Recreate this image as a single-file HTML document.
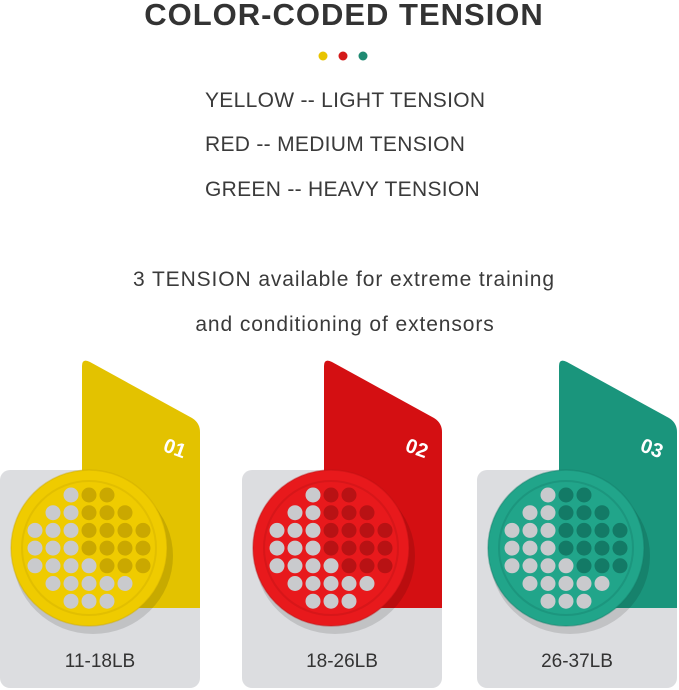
<!DOCTYPE html>
<html><head><meta charset="utf-8"><style>
html,body{margin:0;padding:0;background:#fff;width:679px;height:690px;overflow:hidden}
svg{display:block}
text{font-family:"Liberation Sans",sans-serif}
</style></head><body>
<svg id="s" width="679" height="690" viewBox="0 0 679 690" xmlns="http://www.w3.org/2000/svg">
<text x="344" y="25" text-anchor="middle" font-size="31" font-weight="bold" fill="#333" letter-spacing="1">COLOR-CODED TENSION</text>
<circle cx="323" cy="56" r="4.5" fill="#e8c400"/>
<circle cx="343" cy="56" r="4.5" fill="#d41a1a"/>
<circle cx="363" cy="56" r="4.5" fill="#1f8a72"/>
<g font-size="21" fill="#3a3a3a" xml:space="preserve" letter-spacing="0.3">
<text x="205" y="107">YELLOW  -- LIGHT TENSION</text>
<text x="205" y="151">RED -- MEDIUM TENSION</text>
<text x="205" y="196">GREEN -- HEAVY TENSION</text>
<text x="344" y="286" text-anchor="middle" letter-spacing="0.9">3 TENSION available for extreme training</text>
<text x="345" y="331" text-anchor="middle" letter-spacing="0.9">and conditioning of extensors</text>
</g>
<g id="cards"></g>
</svg>
<script>
var g=document.getElementById('cards'),h='';
var C=[{x:0,c:'#efcb00',d:'#caa800',e:'#e3c200',l:'11-18LB',n:'01'},
{x:242,c:'#e8191c',d:'#b81214',e:'#d40f12',l:'18-26LB',n:'02'},
{x:477,c:'#21a58a',d:'#137a66',e:'#1a957c',l:'26-37LB',n:'03'}];
C.forEach(function(k){var x=k.x;
h+='<rect x="'+x+'" y="470" width="200" height="218" rx="10" fill="#dcdde0"/>';
h+='<path d="M'+(x+82)+' 366 Q'+(x+82)+' 358 '+(x+90)+' 362 L'+(x+192)+' 418 Q'+(x+200)+' 423 '+(x+200)+' 432 L'+(x+200)+' 608 L'+(x+82)+' 608 Z" fill="'+k.e+'"/>';
h+='<text x="'+(x+175)+'" y="455" transform="rotate(20 '+(x+175)+' 448)" text-anchor="middle" font-size="20" font-weight="bold" fill="#fff">'+k.n+'</text>';
var cx=x+89,cy=548;
h+='<ellipse cx="'+(cx+4)+'" cy="'+(cy+8)+'" rx="80" ry="78" fill="rgba(0,0,0,0.12)"/>';
h+='<circle cx="'+cx+'" cy="'+cy+'" r="78" fill="'+k.c+'" stroke="'+k.d+'" stroke-opacity="0.4" stroke-width="1.5"/>';
h+='<circle cx="'+cx+'" cy="'+cy+'" r="67" fill="none" stroke="'+k.d+'" stroke-opacity="0.35" stroke-width="2"/>';
var rows=[3,5,7,7,7,5,3];
rows.forEach(function(n,i){var y=cy-53+i*17.7;for(var j=0;j<n;j++){var hx=cx+(j-(n-1)/2)*18;
var dark=(hx>x+82)&&!(i>=3&&hx<x+82+ (i-3)*18+ (i>=5?40:0));
h+='<circle cx="'+hx.toFixed(1)+'" cy="'+y.toFixed(1)+'" r="7.5" fill="'+(dark?k.d:'#c9cacd')+'"/>';}});
h+='<text x="'+(x+100)+'" y="667" text-anchor="middle" font-size="19" fill="#333">'+k.l+'</text>';
});
g.innerHTML=h;
</script>
</body></html>
